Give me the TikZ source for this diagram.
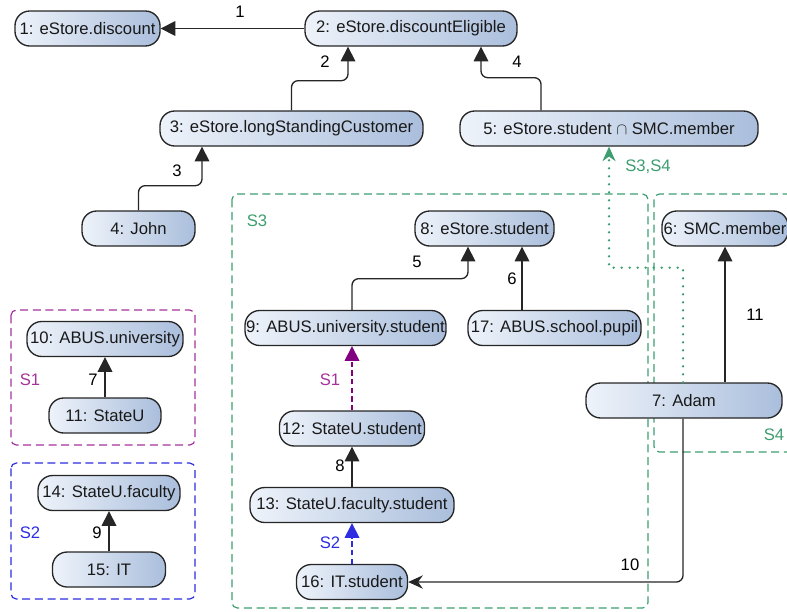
\documentclass[tikz,border=0pt]{standalone}
\usepackage{fontspec}
\setmainfont{Liberation Sans}
\usetikzlibrary{calc,arrows.meta}

\definecolor{sgreen}{RGB}{62,158,112}
\definecolor{spurple}{RGB}{165,50,155}
\definecolor{darkpurple}{RGB}{128,0,128}
\definecolor{sblue}{RGB}{45,45,225}
\definecolor{nodeleft}{RGB}{238,243,250}
\definecolor{noderight}{RGB}{170,190,220}

\tikzset{
  role/.style={draw=black!85, line width=1pt, rounded corners=11pt,
    left color=nodeleft, right color=noderight, text=black!90,
    minimum height=26.25pt, inner sep=0pt, font=\fontsize{12.5}{15}\selectfont},
  wd/.style={minimum width=#1*0.75pt},
  link/.style={draw=black!85, line width=1pt, rounded corners=5pt,
    -{Triangle[length=11pt,width=11pt]}},
  tag/.style={inner sep=0pt, font=\fontsize{12.5}{15}\selectfont},
  credbox/.style={line width=0.9pt, rounded corners=4pt, dash pattern=on 6pt off 3.5pt}
}

\begin{document}
\begin{tikzpicture}[x=0.75pt,y=-0.75pt]
\useasboundingbox (0,0) rectangle (787,611);

% draw credential boxes
\draw[credbox, sgreen] (232,194) rectangle (648,608);
\draw[credbox, sgreen] (654,194) rectangle (800,452);
\draw[credbox, spurple] (11,310) rectangle (195,445);
\draw[credbox, sblue] (11,463) rectangle (195,599);
\node[tag, text=sgreen] (s3) at (257,221) {S3};
\node[tag, text=sgreen] (s4) at (774,435) {S4};
\node[tag, text=spurple] (s1) at (30,380) {S1};
\node[tag, text=sblue] (s2) at (30,533) {S2};

% draw roles
\node[role, wd=145] (n1) at (87.5,28.5) {1: eStore.discount};
\node[role, wd=212] (n2) at (411,28.5) {2: eStore.discountEligible};
\node[role, wd=263] (n3) at (291.5,128.5) {3: eStore.longStandingCustomer};
\node[role, wd=298] (n5) at (609,128.5) {5: eStore.student $\cap$ SMC.member};
\node[role, wd=113] (n4) at (138.5,228.5) {4: John};
\node[role, wd=139] (n8) at (484.5,228.5) {8: eStore.student};
\node[role, wd=126] (n6) at (725,228.5) {6: SMC.member};
\node[role, wd=201] (n9) at (345.5,328) {9: ABUS.university.student};
\node[role, wd=173] (n17) at (554.5,328) {17: ABUS.school.pupil};
\node[role, wd=196] (n7) at (684,400.5) {7: Adam};
\node[role, wd=145] (n12) at (352,428.5) {12: StateU.student};
\node[role, wd=204] (n13) at (352,505) {13: StateU.faculty.student};
\node[role, wd=111] (n16) at (352,582) {16: IT.student};
\node[role, wd=156] (n10) at (105,339) {10: ABUS.university};
\node[role, wd=112] (n11) at (105,415.5) {11: StateU};
\node[role, wd=142] (n14) at (109,493) {14: StateU.faculty};
\node[role, wd=113] (n15) at (109,569.5) {15: IT};

% draw credentials
\draw[link] (n2.west) -- (n1.east);
\draw[link] (n3.north) |- ($(n2.south)+(-63,34)$) -- ($(n2.south)+(-63,0)$);
\draw[link] (n4.north) |- ($(n3.south)+(-89.5,39)$) -- ($(n3.south)+(-89.5,0)$);
\draw[link] ($(n5.north)+(-68,0)$) |- ($(n2.south)+(70,31)$) -- ($(n2.south)+(70,0)$);
\draw[link] ($(n9.north)+(6.5,0)$) |- ($(n8.south)+(-16.5,32)$) -- ($(n8.south)+(-16.5,0)$);
\draw[link] ($(n17.north)+(-32.5,0)$) -- ($(n8.south)+(37.5,0)$);
\draw[link] ($(n7.north)+(41,0)$) -- (n6.south);
\draw[link, -{Stealth[length=11pt,width=10pt]}] ($(n7.south)+(-1,0)$) |- (n16.east);
\draw[link] (n13.north) -- (n12.south);
\draw[link] (n11.north) -- (n10.south);
\draw[link] (n15.north) -- (n14.south);
\draw[link, draw=darkpurple, dash pattern=on 4pt off 2.5pt,
  -{Triangle[length=11pt,width=11pt,fill=darkpurple]}] (n12.north) -- ($(n9.south)+(6.5,0)$);
\draw[link, draw=sblue, dash pattern=on 4pt off 2.5pt,
  -{Triangle[length=11pt,width=11pt,fill=sblue]}] (n16.north) -- (n13.south);
\draw[link, draw=sgreen, line width=2pt, line cap=round, rounded corners=0pt,
  dash pattern=on 0pt off 6pt, -{Stealth[length=11pt,width=10pt,fill=sgreen,line width=0pt]}]
  ($(n7.north)+(-1,0)$) |- ($(n5.south)+(0,121)$) -- (n5.south);

% draw credential labels
\node[tag] (l1) at (240,12) {1};
\node[tag] (l2) at (325,62) {2};
\node[tag] (l3) at (177,171) {3};
\node[tag] (l4) at (517,62) {4};
\node[tag] (l5) at (417,262) {5};
\node[tag] (l6) at (512,279) {6};
\node[tag] (l7) at (93,380) {7};
\node[tag] (l8) at (340,466) {8};
\node[tag] (l9) at (97,533) {9};
\node[tag] (l10) at (630,565) {10};
\node[tag] (l11) at (755,315) {11};
\node[tag, text=spurple] (ls1) at (330,380) {S1};
\node[tag, text=sblue] (ls2) at (330,543) {S2};
\node[tag, text=sgreen] (ls34) at (648,167) {S3,S4};
\end{tikzpicture}
\end{document}
